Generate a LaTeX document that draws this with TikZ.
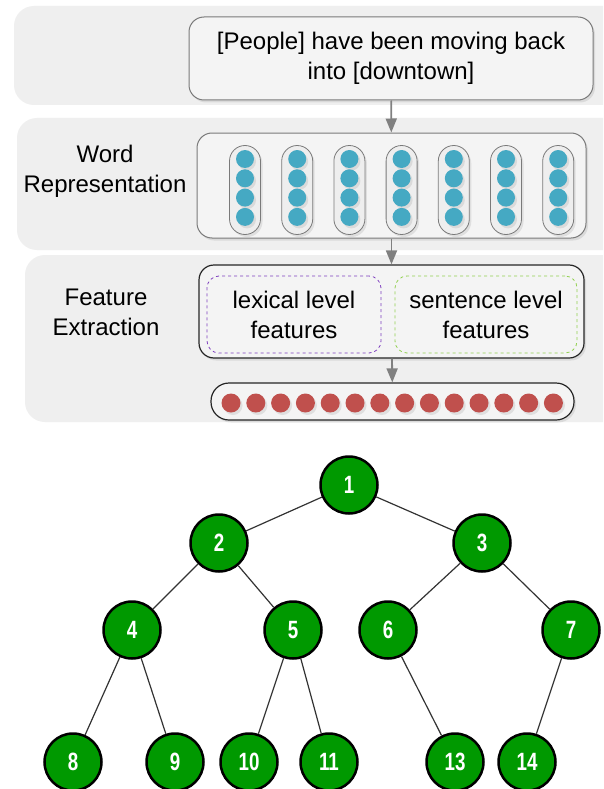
\documentclass[tikz,border=0pt]{standalone}
\usepackage{fontspec}
\setmainfont{Liberation Sans}
\newfontfamily\treefont[FakeStretch=0.75]{Liberation Sans}
\usepackage{tikz}
\usetikzlibrary{arrows.meta,shadows}
\definecolor{bandgray}{HTML}{EFEFEF}
\definecolor{boxfill}{HTML}{F4F4F4}
\definecolor{boxline}{HTML}{7A7A7A}
\definecolor{pillfill}{HTML}{EEEEEE}
\definecolor{dotblue}{HTML}{45A9C3}
\definecolor{dotred}{HTML}{C0504D}
\definecolor{lexpurple}{HTML}{7F3FBF}
\definecolor{sentgreen}{HTML}{92D050}
\definecolor{treegreen}{HTML}{009900}
\newcommand{\bigtext}{\fontsize{24}{30}\selectfont}
\newcommand{\treetext}{\treefont\bfseries\fontsize{25}{25}\selectfont}
\tikzset{
  softshadow/.style={drop shadow={opacity=0.18, shadow xshift=2pt, shadow yshift=-2.5pt}},
  box/.style={draw=boxline, fill=boxfill, line width=1pt, rounded corners=15pt, softshadow},
  fbox/.style={draw=black!85, fill=boxfill, line width=1.2pt, rounded corners=15pt, softshadow},
  dashbox/.style={dashed, line width=0.8pt, rounded corners=12pt, align=center, font=\bigtext, fill=boxfill},
  pill/.style={draw=boxline, fill=pillfill, line width=0.8pt, rounded corners=15.5pt,
    minimum width=31pt, minimum height=89pt, softshadow},
  bluedot/.style={circle, fill=dotblue, minimum size=18pt, inner sep=0pt, softshadow},
  reddot/.style={circle, fill=dotred, minimum size=19pt, inner sep=0pt, softshadow},
  flow/.style={draw=black!50, line width=1.8pt, -{Triangle[length=14pt,width=11pt]}},
  tnode/.style={circle, draw=black, line width=2.5pt, fill=treegreen, text=white,
    minimum size=57pt, inner sep=0pt, font=\treetext},
  tedge/.style={draw=black!80, line width=1.2pt}
}
\begin{document}
\begin{tikzpicture}[x=1pt,y=-1pt]
\clip (0,0) rectangle (603,789);
\fill[white] (0,0) rectangle (603,789);
% background bands
\fill[bandgray, rounded corners=20pt] (14,6) rectangle (650,105);
\fill[bandgray, rounded corners=20pt] (17,118) rectangle (650,250);
\fill[bandgray, rounded corners=20pt] (25,255) rectangle (650,422);

% input sentence
\node[box, minimum width=404pt, minimum height=83pt, align=center, font=\bigtext]
  (sent) at (391,58.5) {[People] have been moving back\\into [downtown]};

% word representation
\node[font=\bigtext, align=center] (wordlbl) at (105,171) {Word\\Representation};
\node[box, minimum width=389pt, minimum height=105pt] (word) at (391.5,185.5) {};
\foreach \i in {0,...,6} {
  \node[pill] (pill\i) at (245+52.2*\i,190) {};
  \foreach \j in {0,...,3}
    \node[bluedot] (wd\i\j) at (245+52.2*\i,159+19.3*\j) {};
}

% feature extraction
\node[font=\bigtext, align=center] (featlbl) at (106,312) {Feature\\Extraction};
\node[fbox, minimum width=385pt, minimum height=93pt] (feat) at (391.5,311.5) {};
\node[dashbox, draw=lexpurple, minimum width=174pt, minimum height=77pt]
  (lex) at (294,314.5) {lexical level\\features};
\node[dashbox, draw=sentgreen, minimum width=182pt, minimum height=77pt]
  (sentlvl) at (486,314.5) {sentence level\\features};

% feature vector
\node[fbox, rounded corners=18pt, minimum width=363pt, minimum height=37pt] (vec) at (392.5,401.5) {};
\foreach \k in {0,...,13}
  \node[reddot] (fv\k) at (231+24.8*\k,403) {};

\draw[flow] (sent) -- (word);
\draw[flow] (word) -- (feat);
\draw[flow] (feat) -- (vec);

% binary tree
\node[tnode] (t1) at (349,485) {1};
\node[tnode] (t2) at (219,543) {2};
\node[tnode] (t3) at (482,543) {3};
\node[tnode] (t4) at (132,630) {4};
\node[tnode] (t5) at (293,630) {5};
\node[tnode] (t6) at (388,630) {6};
\node[tnode] (t7) at (571,630) {7};
\node[tnode] (t8) at (73,762) {8};
\node[tnode] (t9) at (175,762) {9};
\node[tnode] (t10) at (249,762) {10};
\node[tnode] (t11) at (329,762) {11};
\node[tnode] (t13) at (455,762) {13};
\node[tnode] (t14) at (527,762) {14};
\draw[tedge] (t1) -- (t2);
\draw[tedge] (t1) -- (t3);
\draw[tedge] (t2) -- (t4);
\draw[tedge] (t2) -- (t5);
\draw[tedge] (t3) -- (t6);
\draw[tedge] (t3) -- (t7);
\draw[tedge] (t4) -- (t8);
\draw[tedge] (t4) -- (t9);
\draw[tedge] (t5) -- (t10);
\draw[tedge] (t5) -- (t11);
\draw[tedge] (t6) -- (t13);
\draw[tedge] (t7) -- (t14);
\end{tikzpicture}
\end{document}
